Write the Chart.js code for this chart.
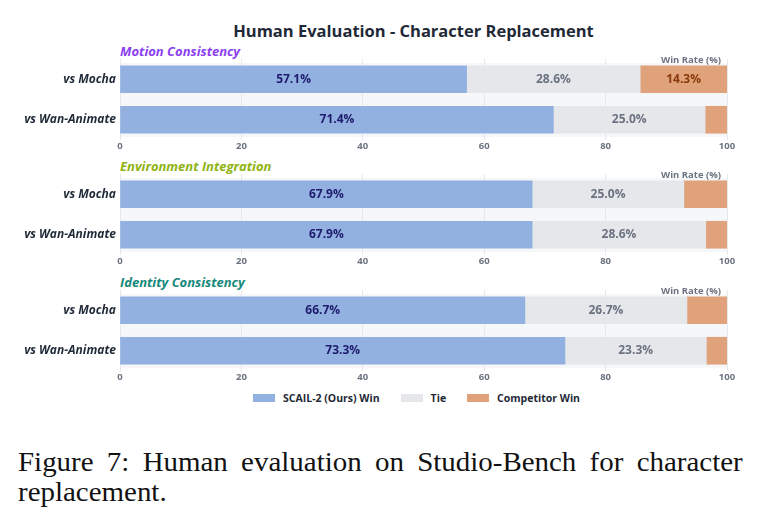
<!DOCTYPE html>
<html>
<head>
<meta charset="utf-8">
<script src="https://cdn.jsdelivr.net/npm/chart.js@4.4.0/dist/chart.umd.min.js"></script>
<style>
  body { margin: 0; background: #fff; }
  #wrap { position: relative; width: 760px; height: 525px; overflow: hidden; }
  .title {
    position: absolute; left: 0; width: 827px; top: 19px; text-align: center;
    font: 700 16.5px "Open Sans", sans-serif; color: #1f2937;
  }
  .panel-label {
    position: absolute; left: 120px;
    font: italic 700 13px "Open Sans", sans-serif;
  }
  .box { position: absolute; left: 0; width: 760px; height: 107px; }
  .legend {
    position: absolute; left: 253px; top: 391px; display: flex; align-items: center;
    font: 700 10.5px "Open Sans", sans-serif; color: #1f2937;
  }
  .legend span.sw { display: inline-block; width: 22px; height: 8px; margin-right: 8px; }
  .legend span.tx { margin-right: 21px; }
  .caption {
    position: absolute; left: 18px; width: 676px; top: 447px;
    font: 27px "Liberation Serif", "Times New Roman", serif; line-height: 30px;
    text-align: justify; color: #111;
    transform: scaleX(1.072); transform-origin: left top;
  }
</style>
</head>
<body>
<div id="wrap">
  <div class="title">Human Evaluation - Character Replacement</div>
  <div id="panels"></div>
  <div class="legend" id="legend"></div>
  <div class="caption">Figure 7: Human evaluation on Studio-Bench for character replacement.</div>
</div>
<script>
const panelNames = ["Motion Consistency", "Environment Integration", "Identity Consistency"];
const opponents = ["vs Mocha", "vs Wan-Animate"];
const seriesNames = ["SCAIL-2 (Ours) Win", "Tie", "Competitor Win"];
const oursWin = [[57.1, 71.4], [67.9, 67.9], [66.7, 73.3]];
const tie = [[28.6, 25.0], [25.0, 28.6], [26.7, 23.3]];
const competitorWin = [[14.3, 3.6], [7.1, 3.5], [6.6, 3.4]];
const xTicks = [0, 20, 40, 60, 80, 100];

const panelColors = ["#8b3ff0", "#8fb310", "#16897b"];
const panelTops = [47, 162, 278];
const barColors = ["#92b1e0", "#e5e7eb", "#dfa27b"];
const labelColors = ["#1e1b6e", "#6b7280", "#8a3a0c"];

// light panel background under the bars
const panelBg = {
  id: "panelBg",
  beforeDraw(chart) {
    const { ctx, chartArea: a } = chart;
    ctx.save();
    ctx.fillStyle = "#f6f7f9";
    ctx.fillRect(a.left, a.top + 4, a.right - a.left, a.bottom - a.top - 7);
    ctx.restore();
  },
};

// percentage labels inside the segments + "Win Rate (%)" note
const valueLabels = {
  id: "valueLabels",
  afterDatasetsDraw(chart) {
    const { ctx, chartArea: a } = chart;
    ctx.save();
    ctx.font = "700 12px 'Open Sans', sans-serif";
    ctx.textAlign = "center";
    ctx.textBaseline = "middle";
    chart.data.datasets.forEach((ds, i) => {
      chart.getDatasetMeta(i).data.forEach((bar, j) => {
        const v = ds.data[j];
        if (v < 10) return;
        const { x, base, y } = bar.getProps(["x", "base", "y"], true);
        ctx.fillStyle = labelColors[i];
        ctx.fillText(v.toFixed(1) + "%", (x + base) / 2, y);
      });
    });
    ctx.font = "700 9.5px 'Open Sans', sans-serif";
    ctx.fillStyle = "#6b7280";
    ctx.textAlign = "right";
    ctx.fillText("Win Rate (%)", a.right - 6, a.top + 1);
    ctx.restore();
  },
};

const panelsEl = document.getElementById("panels");
panelNames.forEach((name, p) => {
  const label = document.createElement("div");
  label.className = "panel-label";
  label.style.top = (panelTops[p] - 5) + "px";
  label.style.color = panelColors[p];
  label.textContent = name;
  panelsEl.appendChild(label);

  const box = document.createElement("div");
  box.className = "box";
  box.style.top = panelTops[p] + "px";
  const canvas = document.createElement("canvas");
  box.appendChild(canvas);
  panelsEl.appendChild(box);

  const values = [oursWin[p], tie[p], competitorWin[p]];
  new Chart(canvas, {
    type: "bar",
    data: {
      labels: opponents,
      datasets: seriesNames.map((s, i) => ({
        label: s,
        data: values[i],
        backgroundColor: barColors[i],
        borderWidth: 0,
        barThickness: 27,
      })),
    },
    options: {
      indexAxis: "y",
      responsive: true,
      maintainAspectRatio: false,
      animation: false,
      layout: { padding: { top: 12, right: 33, left: 0, bottom: 0 } },
      scales: {
        x: {
          stacked: true,
          min: 0,
          max: 100,
          afterBuildTicks: (scale) => {
            scale.ticks = xTicks.map((v) => ({ value: v }));
          },
          afterFit: (scale) => { scale.height = 14; },
          grid: { color: "#e6e8ec", drawTicks: false },
          border: { display: false },
          ticks: {
            padding: 1,
            color: "#6b7280",
            font: { family: "Open Sans", size: 9.5, weight: "bold" },
          },
        },
        y: {
          stacked: true,
          afterFit: (scale) => { scale.width = 120; },
          grid: { display: false, drawTicks: false },
          border: { display: false },
          ticks: {
            padding: 4,
            color: "#1f2937",
            font: { family: "Open Sans", size: 12, weight: "bold", style: "italic" },
          },
        },
      },
      plugins: {
        legend: { display: false },
        tooltip: { enabled: false },
      },
    },
    plugins: [panelBg, valueLabels],
  });
});

const legendEl = document.getElementById("legend");
seriesNames.forEach((s, i) => {
  const sw = document.createElement("span");
  sw.className = "sw";
  sw.style.background = barColors[i];
  const tx = document.createElement("span");
  tx.className = "tx";
  tx.textContent = s;
  legendEl.appendChild(sw);
  legendEl.appendChild(tx);
});
</script>
</body>
</html>
